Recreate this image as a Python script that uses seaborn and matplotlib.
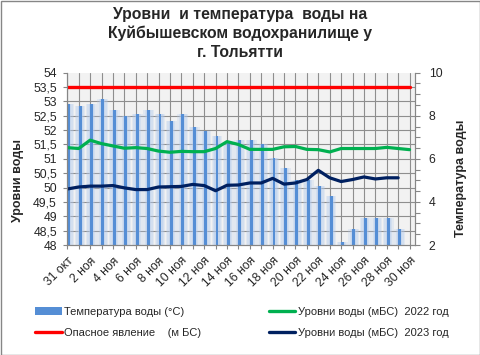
import numpy as np
import pandas as pd
import matplotlib
matplotlib.use("Agg")
import matplotlib.pyplot as plt
import seaborn as sns
from matplotlib.patches import Rectangle, Patch
from matplotlib.lines import Line2D
from matplotlib.ticker import FuncFormatter, MultipleLocator

# ---------------- data ----------------
dates = ["31 окт", "1 ноя", "2 ноя", "3 ноя", "4 ноя", "5 ноя", "6 ноя", "7 ноя",
         "8 ноя", "9 ноя", "10 ноя", "11 ноя", "12 ноя", "13 ноя", "14 ноя",
         "15 ноя", "16 ноя", "17 ноя", "18 ноя", "19 ноя", "20 ноя", "21 ноя",
         "22 ноя", "23 ноя", "24 ноя", "25 ноя", "26 ноя", "27 ноя", "28 ноя",
         "29 ноя", "30 ноя"]

temperature = [8.55, 8.46, 8.55, 8.78, 8.27, 8.00, 8.08, 8.27, 8.08, 7.77,
               8.08, 7.49, 7.29, 7.05, 6.75, 6.87, 6.87, 6.68, 6.06, 5.56,
               5.04, 5.01, 4.73, 4.26, 2.15, 2.73, 3.26, 3.26, 3.26, 2.73,
               np.nan]

level_2022 = [51.39, 51.36, 51.65, 51.53, 51.45, 51.37, 51.39, 51.36, 51.27, 51.23,
              51.26, 51.25, 51.25, 51.36, 51.60, 51.50, 51.33, 51.33, 51.33, 51.42,
              51.43, 51.33, 51.32, 51.24, 51.36, 51.36, 51.36, 51.36, 51.40, 51.36,
              51.32]

level_2023 = [49.95, 50.02, 50.05, 50.05, 50.07, 49.99, 49.93, 49.93, 50.02, 50.03,
              50.04, 50.11, 50.07, 49.89, 50.08, 50.09, 50.16, 50.16, 50.32, 50.12,
              50.16, 50.28, 50.60, 50.34, 50.21, 50.28, 50.37, 50.30, 50.34, 50.34,
              np.nan]

danger_level = [53.5, 53.5, 53.5, 53.5, 53.5, 53.5, 53.5, 53.5, 53.5, 53.5,
                53.5, 53.5, 53.5, 53.5, 53.5, 53.5, 53.5, 53.5, 53.5, 53.5,
                53.5, 53.5, 53.5, 53.5, 53.5, 53.5, 53.5, 53.5, 53.5, 53.5,
                53.5]

level_ticks = [48, 48.5, 49, 49.5, 50, 50.5, 51, 51.5, 52, 52.5, 53, 53.5, 54]
temp_ticks = [2, 4, 6, 8, 10]

title = "Уровни  и температура  воды на\nКуйбышевском водохранилище у\nг. Тольятти"
lab_temp = "Температура воды (°C)"
lab_danger = "Опасное явление    (м БС)"
lab_2022 = "Уровни воды (мБС)  2022 год"
lab_2023 = "Уровни воды (мБС)  2023 год"

# ---------------- style ----------------
sns.set_style("white")
plt.rcParams["font.family"] = ["Liberation Sans", "DejaVu Sans"]

C_BAR = "#558ed5"
C_GLOW = "#b3cbed"
C_2022 = "#00b050"
C_2023 = "#002060"
C_RED = "#ff0000"
C_GRID = "#8e8e8e"
C_AX = "#868686"
TICK_FS = 8.8

n = len(dates)
pos = np.arange(n)

fig = plt.figure(figsize=(4.81, 3.55), dpi=100)
L, R, T, B = 67.3 / 481, 415.5 / 481, 72.7 / 355, 245 / 355
ax_t = fig.add_axes([L, 1 - B, R - L, B - T])
ax_t.set_facecolor("#f2f2f2")
ax_l = ax_t.twinx()

# temperature bars (with soft glow)
df_bar = pd.DataFrame({"pos": pos + 0.12, "temp": temperature})
for w, a in [(0.95, 0.25), (0.7, 0.3), (0.45, 0.38)]:
    sns.barplot(data=df_bar, x="pos", y="temp", native_scale=True, width=w,
                color=C_GLOW, saturation=1, alpha=a, errorbar=None,
                linewidth=0, ax=ax_t)
sns.barplot(data=df_bar, x="pos", y="temp", native_scale=True, width=0.25,
            color=C_BAR, saturation=1, errorbar=None, linewidth=0, ax=ax_t)

ax_t.set_ylim(2, 10)
ax_t.set_xlim(0, 30.52)

# horizontal gridlines at left-axis ticks, drawn below the bars
for v in level_ticks[1:-1]:
    tv = 2 + (v - level_ticks[0]) * (10 - 2) / (level_ticks[-1] - level_ticks[0])
    ax_t.axhline(tv, color=C_GRID, lw=0.8, zorder=0.5)
ax_t.set_axisbelow(True)
ax_t.set_xticks(pos)
ax_t.grid(axis="x", color=C_GRID, lw=0.8)
ax_t.grid(axis="y", visible=False)

# lines
sns.lineplot(x=pos, y=danger_level, color=C_RED, lw=2.4, ax=ax_l, legend=False)
sns.lineplot(x=pos, y=level_2022, color=C_2022, lw=2.3, ax=ax_l, legend=False)
sns.lineplot(x=pos, y=level_2023, color=C_2023, lw=2.3, ax=ax_l, legend=False)
ax_l.set_ylim(48, 54)
ax_l.set_xlim(0, 30.52)

# axes sides: levels on the left, temperature on the right
ax_l.yaxis.set_ticks_position("left")
ax_t.yaxis.set_ticks_position("right")
ax_l.set_yticks(level_ticks)
ax_l.yaxis.set_major_formatter(FuncFormatter(lambda v, p: f"{v:g}".replace(".", ",")))
ax_t.set_yticks(temp_ticks)
ax_t.yaxis.set_minor_locator(MultipleLocator(0.5))
ax_l.set_ylabel("")
ax_t.set_ylabel("")
ax_t.set_xlabel("")
ax_l.set_xlabel("")

xt_labels = [d if i % 2 == 0 else "" for i, d in enumerate(dates)]
ax_t.set_xticklabels(xt_labels, rotation=45, ha="right", rotation_mode="anchor",
                     fontsize=TICK_FS)

ax_l.tick_params(axis="y", which="major", direction="out", length=3, width=0.8,
                 color=C_AX, labelsize=TICK_FS, pad=4.5, left=True, right=False,
                 labelleft=True, labelright=False)
ax_t.tick_params(axis="y", which="both", direction="out", length=3.5, width=0.8,
                 color=C_AX, labelsize=TICK_FS, pad=6, right=True, left=False,
                 labelright=True, labelleft=False)
ax_t.tick_params(axis="x", direction="out", length=3, width=0.8, color=C_AX,
                 pad=4, bottom=True)

for a in (ax_t, ax_l):
    for s in a.spines.values():
        s.set_color(C_AX)
        s.set_linewidth(0.8)
    a.spines["top"].set_visible(False)

# axis titles
fig.text(18 / 481, 1 - 181 / 355, "Уровни воды", rotation=90, ha="center",
         va="center", fontsize=9, fontweight="bold")
fig.text(461 / 481, 1 - 178.5 / 355, "Температура воды", rotation=90,
         ha="center", va="center", fontsize=9, fontweight="bold")

# title
fig.text(0.5, 1 - 7 / 355, title, ha="center", va="top", fontsize=11.3,
         fontweight="bold", linespacing=1.3)

# legend
handles = [Patch(facecolor=C_BAR, edgecolor="none"),
           Line2D([], [], color=C_RED, lw=2.4),
           Line2D([], [], color=C_2022, lw=2.4),
           Line2D([], [], color=C_2023, lw=2.4)]
labels = [lab_temp, lab_danger, lab_2022, lab_2023]
fig.legend(handles, labels, ncol=2, loc="upper left",
           bbox_to_anchor=(35 / 481, 1 - 307 / 355), frameon=False,
           fontsize=8, handlelength=2.4, handletextpad=0.2, columnspacing=6.1,
           labelspacing=0.95, borderpad=0, borderaxespad=0)

# figure border
fig.add_artist(Rectangle((0.5 / 481, 0.5 / 355), 1 - 1 / 481, 1 - 1 / 355,
                         transform=fig.transFigure, fill=False,
                         edgecolor=C_AX, lw=1))

fig.savefig("out.png", dpi=100)
